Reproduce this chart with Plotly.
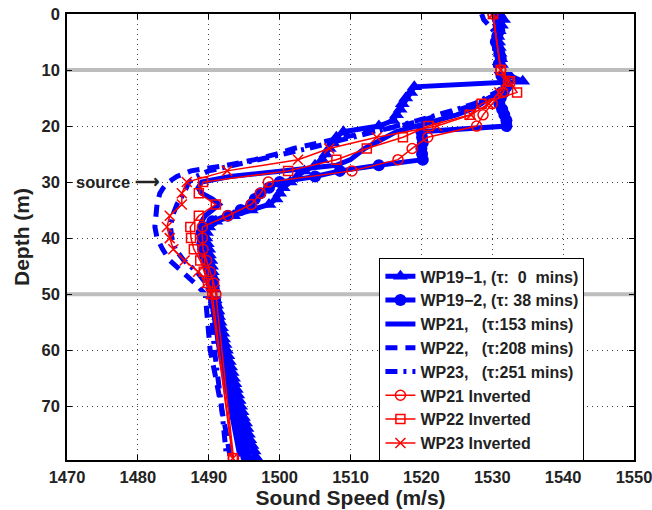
import plotly.graph_objects as go

# ---- measured profiles (depth in m, sound speed in m/s) ----
depth_1m = list(range(0, 80))

wp19_1_speed = [
    1531.0, 1531.6, 1531.3, 1531.0, 1530.8, 1530.9, 1531.0, 1531.1, 1531.2, 1531.3,
    1531.5, 1532.5, 1534.3, 1519.0, 1518.5, 1517.8, 1517.3, 1517.0, 1516.5, 1516.0,
    1514.0, 1509.0, 1508.0, 1507.5, 1507.0, 1506.5, 1506.0, 1505.0, 1503.5, 1502.5,
    1501.5, 1500.5, 1500.0, 1499.5, 1498.5, 1496.0, 1493.5, 1491.0, 1490.0, 1489.7,
    1489.6, 1489.8, 1490.0, 1490.1, 1490.3, 1490.4, 1490.5, 1490.6, 1490.6, 1490.7,
    1490.8, 1490.9, 1491.1, 1491.3, 1491.4, 1491.6, 1491.8, 1492.0, 1492.1, 1492.3,
    1492.5, 1492.7, 1492.9, 1493.1, 1493.3, 1493.5, 1493.7, 1493.9, 1494.1, 1494.3,
    1494.5, 1494.7, 1494.9, 1495.2, 1495.4, 1495.6, 1495.8, 1496.1, 1496.4, 1496.6,
]

wp19_2_speed = [
    1530.6, 1530.8, 1530.9, 1531.0, 1530.7, 1530.5, 1530.8, 1531.0, 1531.2, 1530.9,
    1531.0, 1531.3, 1531.8, 1532.0, 1531.6, 1531.2, 1531.0, 1531.4, 1531.7, 1532.0,
    1532.0, 1520.0, 1520.1, 1520.2, 1520.0, 1520.1, 1520.2, 1514.0, 1508.5, 1505.0,
    1500.0, 1498.5, 1497.3, 1496.5, 1496.0, 1494.5, 1492.7, 1490.5, 1489.2, 1489.0,
    1489.1, 1489.1, 1489.2, 1489.4, 1489.7, 1490.0, 1490.2, 1490.4, 1490.6, 1490.7,
    1490.8, 1490.9, 1491.0, 1491.1, 1491.3, 1491.4, 1491.5, 1491.7, 1491.8, 1492.0,
    1492.1, 1492.3, 1492.4, 1492.6, 1492.7, 1492.9, 1493.0, 1493.2, 1493.3, 1493.5,
    1493.6, 1493.8, 1493.9, 1494.1, 1494.3, 1494.5, 1494.7, 1494.9, 1495.1, 1495.3,
]

wp21_depth = [0, 3, 6, 10, 11, 12, 13, 14, 15, 16, 17, 18, 19, 20, 21, 22, 23, 24, 25, 26,
              27, 28, 29, 30, 31, 32, 33, 34, 35, 36, 37, 38, 40, 42, 44, 46, 48, 50,
              55, 60, 65, 70, 75, 79]
wp21_speed = [1530.8, 1530.6, 1530.9, 1530.8, 1531.5, 1532.0, 1532.5, 1531.0, 1529.5, 1528.5,
              1527.0, 1525.0, 1522.0, 1519.0, 1516.5, 1515.0, 1513.5, 1512.0, 1511.0, 1510.0,
              1508.0, 1500.0, 1493.0, 1489.0, 1488.5, 1489.0, 1490.5, 1491.5, 1490.5, 1489.5,
              1489.0, 1488.8, 1488.9, 1489.1, 1489.4, 1489.7, 1490.0, 1490.3,
              1490.9, 1491.5, 1492.3, 1493.0, 1493.8, 1494.4]

wp22_depth = [0, 5, 10, 12, 13, 14, 15, 16, 17, 18, 19, 20, 21, 22, 23, 24, 25, 26, 27, 28,
              29, 30, 31, 32, 34, 36, 38, 40, 42, 44, 46, 48, 50, 55, 60, 65, 70, 75, 79]
wp22_speed = [1530.5, 1530.6, 1530.8, 1531.5, 1532.5, 1531.0, 1529.5, 1528.0, 1525.5, 1523.0,
              1520.0, 1517.0, 1512.5, 1509.0, 1505.5, 1502.0, 1499.5, 1496.5, 1492.6, 1487.5,
              1485.5, 1484.3, 1483.6, 1483.1, 1482.7, 1482.5, 1482.4, 1482.7, 1483.5, 1484.5,
              1486.3, 1488.0, 1489.5, 1489.8, 1490.2, 1491.0, 1491.8, 1492.5, 1493.0]

wp23_depth = [0, 1, 2, 3, 5, 10, 12, 13, 14, 15, 16, 17, 18, 19, 20, 21, 22, 23, 24, 25,
              26, 27, 28, 29, 30, 32, 34, 36, 38, 40, 42, 44, 46, 48, 50, 60, 70, 79]
wp23_speed = [1528.5, 1528.8, 1529.5, 1530.2, 1530.5, 1530.8, 1531.0, 1531.5, 1530.5, 1529.0,
              1527.5, 1525.0, 1522.5, 1519.5, 1516.5, 1513.5, 1510.5, 1507.0, 1504.0, 1500.5,
              1497.0, 1493.5, 1490.0, 1488.2, 1487.2, 1486.5, 1485.5, 1484.9, 1484.6, 1484.8,
              1485.3, 1486.5, 1488.3, 1489.6, 1490.2, 1490.8, 1491.8, 1492.5]

# ---- inverted profiles (nodes) ----
inv_depth = [0, 10, 12, 14, 16, 18, 20, 22, 24, 26, 28, 30, 32, 34, 36, 38, 40, 42, 44,
             46, 48, 50, 79.3]
wp21_inv_speed = [1530.1, 1531.2, 1532.3, 1531.5, 1530.0, 1528.7, 1527.8, 1520.9, 1518.7,
                  1516.7, 1510.2, 1498.4, 1497.3, 1496.0, 1492.7, 1489.1, 1489.1, 1489.2,
                  1489.7, 1490.2, 1490.7, 1491.0, 1493.5]
wp22_inv_speed = [1530.1, 1531.2, 1532.5, 1533.5, 1528.5, 1526.8, 1521.0, 1517.4, 1512.3,
                  1508.0, 1501.2, 1489.2, 1488.6, 1491.0, 1488.6, 1487.4, 1487.5, 1487.9,
                  1488.8, 1489.3, 1489.9, 1490.5, 1493.4]
wp23_inv_speed = [1530.1, 1531.2, 1532.0, 1531.0, 1529.5, 1527.0, 1522.2, 1513.7, 1507.0,
                  1502.6, 1492.6, 1486.9, 1486.2, 1486.2, 1484.5, 1484.1, 1484.5, 1485.0,
                  1486.6, 1488.5, 1489.7, 1490.3, 1493.4]

ref_depths = [10, 50]
speed_limits = [1470, 1550]
depth_limits = [79.6, 0]
x_ticks = [1470, 1480, 1490, 1500, 1510, 1520, 1530, 1540, 1550]
y_ticks = [0, 10, 20, 30, 40, 50, 60, 70]

NB = "\u00a0"
names = {
    "wp19_1": f"WP19\u22121, (\u03c4:{NB}{NB}0{NB}{NB}mins)",
    "wp19_2": f"WP19\u22122, (\u03c4:{NB}38{NB}mins)",
    "wp21": f"WP21,{NB}{NB}{NB}(\u03c4:153{NB}mins)",
    "wp22": f"WP22,{NB}{NB}{NB}(\u03c4:208{NB}mins)",
    "wp23": f"WP23,{NB}{NB}{NB}(\u03c4:251{NB}mins)",
    "wp21_inv": "WP21 Inverted",
    "wp22_inv": "WP22 Inverted",
    "wp23_inv": "WP23 Inverted",
}

BLUE = "#0000ff"
RED = "#ff0000"
LW = 5
FONT = "Liberation Sans"
TXT = "#222222"

fig = go.Figure()

fig.add_trace(go.Scatter(x=wp19_1_speed, y=depth_1m, mode="lines+markers", name=names["wp19_1"],
                         line=dict(color=BLUE, width=LW),
                         marker=dict(symbol="triangle-up", size=13, color=BLUE)))
fig.add_trace(go.Scatter(x=wp19_2_speed, y=depth_1m, mode="lines+markers", name=names["wp19_2"],
                         line=dict(color=BLUE, width=LW),
                         marker=dict(symbol="circle", size=12, color=BLUE)))
fig.add_trace(go.Scatter(x=wp21_speed, y=wp21_depth, mode="lines", name=names["wp21"],
                         line=dict(color=BLUE, width=LW)))
fig.add_trace(go.Scatter(x=wp22_speed, y=wp22_depth, mode="lines", name=names["wp22"],
                         line=dict(color=BLUE, width=LW, dash="12px,8px")))
fig.add_trace(go.Scatter(x=wp23_speed, y=wp23_depth, mode="lines", name=names["wp23"],
                         line=dict(color=BLUE, width=LW, dash="12px,6px,3px,6px")))

# reference depths drawn across the full speed range
for d in ref_depths:
    fig.add_trace(go.Scatter(x=speed_limits, y=[d, d], mode="lines", showlegend=False,
                             hoverinfo="skip", line=dict(color="#bdbdbd", width=4)))

fig.add_trace(go.Scatter(x=wp21_inv_speed, y=inv_depth, mode="lines+markers", name=names["wp21_inv"],
                         line=dict(color=RED, width=1.5),
                         marker=dict(symbol="circle-open", size=10, color=RED, line=dict(width=1.5))))
fig.add_trace(go.Scatter(x=wp22_inv_speed, y=inv_depth, mode="lines+markers", name=names["wp22_inv"],
                         line=dict(color=RED, width=1.5),
                         marker=dict(symbol="square-open", size=9, color=RED, line=dict(width=1.5))))
fig.add_trace(go.Scatter(x=wp23_inv_speed, y=inv_depth, mode="lines+markers", name=names["wp23_inv"],
                         line=dict(color=RED, width=1.5),
                         marker=dict(symbol="x-thin-open", size=10, color=RED, line=dict(width=1.5))))

fig.add_annotation(x=1483.3, y=30, xref="x", yref="y", text="source \u27f6", showarrow=False,
                   xanchor="right", yanchor="middle",
                   font=dict(family=FONT, size=16.5, color=TXT, weight="bold"))

axis_common = dict(
    showline=True, linecolor="black", linewidth=1.5, mirror="ticks",
    ticks="inside", ticklen=5, tickcolor="black", tickwidth=1,
    showgrid=True, gridcolor="#444444", gridwidth=1, griddash="1px,4px",
    zeroline=False, automargin=False, ticklabeloverflow="allow",
    tickfont=dict(family=FONT, size=16.5, color=TXT, weight="bold"),
)

fig.update_xaxes(range=speed_limits, tickvals=x_ticks, ticklabelstandoff=1, **axis_common,
                 title=dict(text="Sound Speed (m/s)", standoff=6,
                            font=dict(family=FONT, size=21, color=TXT, weight="bold")))
fig.update_yaxes(range=depth_limits, tickvals=y_ticks, ticklabelstandoff=2, **axis_common,
                 title=dict(text="Depth (m)", standoff=6,
                            font=dict(family=FONT, size=21, color=TXT, weight="bold")))

fig.update_layout(
    width=652, height=510,
    margin=dict(l=67, r=18, t=14, b=50, pad=0),
    paper_bgcolor="white", plot_bgcolor="white",
    showlegend=True,
    legend=dict(x=0.551, y=0.452, xanchor="left", yanchor="top",
                bgcolor="white", bordercolor="black", borderwidth=1,
                entrywidth=200, entrywidthmode="pixels",
                font=dict(family=FONT, size=16, color=TXT, weight="bold"),
                tracegroupgap=0),
)

fig.write_html("out.html")
